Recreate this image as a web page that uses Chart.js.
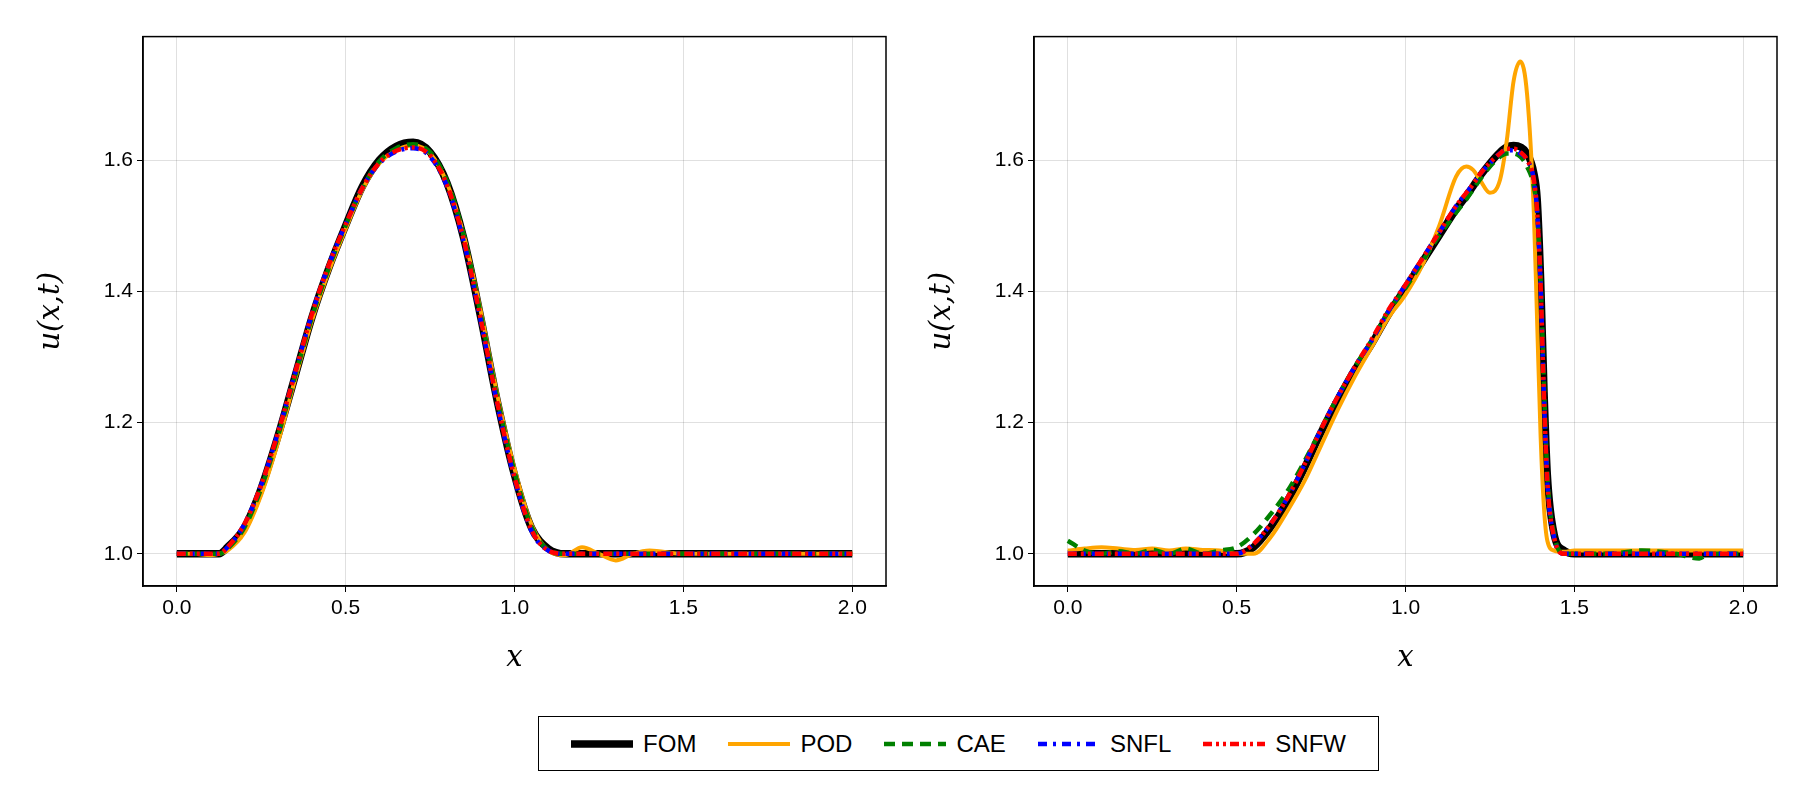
<!DOCTYPE html>
<html><head><meta charset="utf-8">
<script src="https://cdn.jsdelivr.net/npm/chart.js@4"></script>
<style>
body{margin:0;background:#fff;width:1800px;height:800px;position:relative;font-family:"Liberation Sans",Arial,sans-serif;}
canvas{position:absolute;}
#legend{position:absolute;left:538px;top:716px;width:839px;height:53px;border:1.5px solid #000;display:flex;align-items:center;justify-content:space-evenly;font-size:24px;}
.it{display:flex;align-items:center;gap:10px;}
</style></head><body>
<canvas id="c1" style="left:20px;top:20px;width:880px;height:660px" width="880" height="660"></canvas>
<canvas id="c2" style="left:911px;top:20px;width:880px;height:660px" width="880" height="660"></canvas>
<div id="legend"></div>
<script>
const seriesNames=["FOM","POD","CAE","SNFL","SNFW"];
const xTicks=[0,0.5,1.0,1.5,2.0];
const yTicks=[1.0,1.2,1.4,1.6];
// left panel
const xL=[0,0.05,0.1,0.125,0.15,0.2,0.25,0.3,0.35,0.4,0.45,0.5,0.55,0.6,0.65,0.7,0.75,0.8,0.85,0.9,0.95,1.0,1.05,1.1,1.15,1.2,1.25,1.3,1.35,1.4,1.5,1.6,1.7,1.8,1.9,2.0];
const fomL=[1.0,1.0,1.0,1.0,1.01,1.04,1.10,1.18,1.27,1.36,1.435,1.50,1.56,1.60,1.621,1.627,1.612,1.565,1.48,1.36,1.23,1.12,1.04,1.008,1.0,1.0,1.0,1.0,1.0,1.0,1.0,1.0,1.0,1.0,1.0,1.0];
const podL=[1.0,1.0,0.998,1.0,1.005,1.032,1.09,1.17,1.265,1.355,1.43,1.495,1.555,1.595,1.615,1.622,1.61,1.565,1.485,1.37,1.24,1.13,1.045,1.005,0.998,1.01,1.0,0.99,1.0,1.005,1.0,1.0,1.0,1.0,1.0,1.0];
const caeL=[1.0,1.0,1.0,1.0,1.008,1.04,1.10,1.18,1.27,1.36,1.435,1.50,1.558,1.598,1.618,1.624,1.612,1.568,1.485,1.365,1.235,1.125,1.042,1.006,1.0,1.0,1.0,1.0,1.0,1.0,1.0,1.0,1.0,1.0,1.0,1.0];
const snflL=[1.0,1.0,1.0,1.0,1.01,1.045,1.105,1.185,1.275,1.365,1.44,1.502,1.558,1.595,1.613,1.618,1.605,1.56,1.475,1.355,1.225,1.115,1.035,1.005,1.0,1.0,1.0,1.0,1.0,1.0,1.0,1.0,1.0,1.0,1.0,1.0];
const snfwL=[1.0,1.0,1.0,1.0,1.01,1.045,1.105,1.185,1.275,1.365,1.44,1.502,1.558,1.596,1.614,1.619,1.607,1.562,1.478,1.358,1.228,1.117,1.037,1.005,1.0,1.0,1.0,1.0,1.0,1.0,1.0,1.0,1.0,1.0,1.0,1.0];
// right panel
const xR=[0,0.05,0.1,0.15,0.2,0.25,0.3,0.35,0.4,0.45,0.5,0.55,0.6,0.65,0.7,0.75,0.8,0.85,0.9,0.95,1.0,1.05,1.1,1.15,1.18,1.2,1.22,1.25,1.28,1.3,1.32,1.34,1.36,1.38,1.39,1.4,1.41,1.42,1.44,1.47,1.5,1.6,1.7,1.8,1.87,1.9,2.0];
const fomR=[1.0,1.0,1.0,1.0,1.0,1.0,1.0,1.0,1.0,1.0,1.0,1.01,1.04,1.08,1.13,1.185,1.235,1.28,1.32,1.365,1.405,1.445,1.485,1.525,1.545,1.56,1.575,1.595,1.612,1.62,1.622,1.62,1.61,1.58,1.54,1.42,1.25,1.12,1.03,1.005,1.0,1.0,1.0,1.0,1.0,1.0,1.0];
const podR=[1.005,1.008,1.01,1.008,1.006,1.008,1.005,1.008,1.006,1.005,1.0,1.0,1.025,1.065,1.11,1.165,1.22,1.27,1.315,1.36,1.395,1.44,1.5,1.575,1.59,1.585,1.57,1.55,1.57,1.63,1.72,1.75,1.70,1.52,1.35,1.18,1.07,1.02,1.005,1.003,1.005,1.005,1.005,1.005,1.005,1.005,1.005];
const caeR=[1.02,1.005,1.0,1.004,1.0,1.006,1.0,1.008,1.0,1.005,1.01,1.03,1.06,1.095,1.14,1.19,1.24,1.285,1.325,1.37,1.405,1.445,1.485,1.52,1.54,1.555,1.57,1.59,1.605,1.61,1.61,1.605,1.59,1.56,1.52,1.42,1.26,1.12,1.03,1.0,1.0,1.0,1.005,1.0,0.993,1.0,1.0];
const snflR=[1.0,1.0,1.0,1.0,1.0,1.0,1.0,1.0,1.0,1.0,1.0,1.015,1.045,1.085,1.135,1.19,1.24,1.285,1.325,1.37,1.41,1.45,1.49,1.53,1.55,1.563,1.578,1.595,1.61,1.615,1.615,1.61,1.6,1.57,1.52,1.41,1.24,1.11,1.025,1.0,1.0,1.0,1.0,1.0,1.0,1.0,1.0];
const snfwR=[1.0,1.0,1.0,1.0,1.0,1.0,1.0,1.0,1.0,1.0,1.0,1.015,1.045,1.085,1.135,1.19,1.24,1.285,1.327,1.372,1.41,1.45,1.49,1.53,1.55,1.563,1.578,1.596,1.61,1.617,1.617,1.612,1.6,1.57,1.52,1.41,1.24,1.11,1.025,1.0,1.0,1.0,1.0,1.0,1.0,1.0,1.0];

const styles=[
 {c:"#000000",w:7.5,d:[]},
 {c:"#FFA500",w:4,d:[]},
 {c:"#008000",w:4.5,d:[11,7]},
 {c:"#0000FF",w:4.5,d:[9,6,3,6]},
 {c:"#FF0000",w:4.5,d:[9,4,3,4,3,4]}
];
function ds(xs,ysList){
  return ysList.map((ys,i)=>({label:seriesNames[i],data:xs.map((x,j)=>({x:x,y:ys[j]})),
    borderColor:styles[i].c,backgroundColor:styles[i].c,borderWidth:styles[i].w,borderDash:styles[i].d,
    order:5-i,pointRadius:0,cubicInterpolationMode:'monotone',fill:false}));
}
const tickFont={size:21,family:'"Liberation Sans",Arial'};
const titleFont={size:29,family:'"DejaVu Serif",serif',style:'italic'};
function make(id,xs,ysList){
  new Chart(document.getElementById(id),{type:'line',
   data:{datasets:ds(xs,ysList)},
   options:{responsive:false,animation:false,devicePixelRatio:1,
    layout:{padding:{top:12,right:14,left:0,bottom:0}},
    plugins:{legend:{display:false},tooltip:{enabled:false}},
    scales:{
     x:{type:'linear',min:-0.1,max:2.1,
      afterBuildTicks:s=>{s.ticks=xTicks.map(v=>({value:v}));},
      afterFit:s=>{s.height=94;},
      border:{color:'#000',width:1.5},
      grid:{color:'rgba(0,0,0,0.12)',tickLength:6,tickColor:'#000'},
      ticks:{color:'#000',font:tickFont,callback:v=>v.toFixed(1),padding:4},
      title:{display:true,text:'x',color:'#000',font:titleFont,padding:{top:6}}},
     y:{type:'linear',min:0.951,max:1.788,
      afterBuildTicks:s=>{s.ticks=yTicks.map(v=>({value:v}));},
      afterFit:s=>{s.width=123;},
      border:{color:'#000',width:1.5},
      grid:{color:'rgba(0,0,0,0.12)',tickLength:6,tickColor:'#000'},
      ticks:{color:'#000',font:tickFont,callback:v=>v.toFixed(1),padding:4},
      title:{display:true,text:'u(x,t)',color:'#000',font:titleFont,padding:{bottom:0,top:14}}}
    }},
   plugins:[{id:'frame',afterDraw(c){const a=c.chartArea,x=c.ctx;x.save();x.strokeStyle='#000';x.lineWidth=1.5;x.strokeRect(a.left,a.top,a.right-a.left,a.bottom-a.top);x.restore();}}]
  });
}
make('c1',xL,[fomL,podL,caeL,snflL,snfwL]);
make('c2',xR,[fomR,podR,caeR,snflR,snfwR]);
const lg=document.getElementById('legend');
seriesNames.forEach((n,i)=>{
  const s=styles[i];
  lg.insertAdjacentHTML('beforeend',`<div class="it"><svg width="62" height="12"><line x1="0" y1="6" x2="62" y2="6" stroke="${s.c}" stroke-width="${s.w}" stroke-dasharray="${s.d.join(',')}"/></svg><span>${n}</span></div>`);
});
</script></body></html>
